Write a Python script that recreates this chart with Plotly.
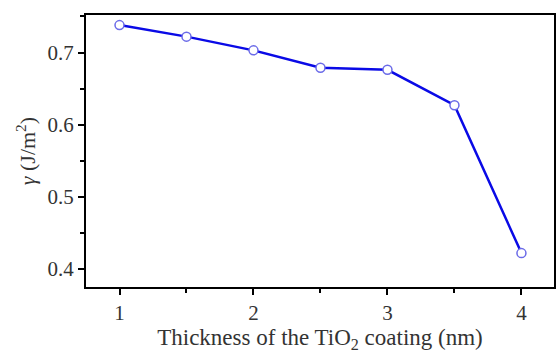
import plotly.graph_objects as go

thickness = [1.0, 1.5, 2.0, 2.5, 3.0, 3.5, 4.0]
gamma = [0.738, 0.722, 0.703, 0.679, 0.676, 0.627, 0.422]

x_ticks = [1, 2, 3, 4]
y_ticks = [0.4, 0.5, 0.6, 0.7]

font_family = "Liberation Serif"

fig = go.Figure()
fig.add_trace(go.Scatter(
    x=thickness, y=gamma, mode="lines+markers",
    line=dict(color="#0a0ae6", width=2.5),
    marker=dict(symbol="circle", size=9, color="white",
                line=dict(color="#6b6be8", width=1.5)),
    showlegend=False,
))

axis_common = dict(
    showline=True, linecolor="black", linewidth=2, mirror=True,
    ticks="outside", ticklen=6, tickwidth=2, tickcolor="black",
    showgrid=False, zeroline=False,
    tickfont=dict(family=font_family, size=21, color="#333333"),
)

fig.update_xaxes(
    range=[0.75, 4.243], tickvals=x_ticks, ticktext=[str(v) for v in x_ticks],
    minor=dict(dtick=0.5, ticks="outside", ticklen=4, tickwidth=2, tickcolor="black"),
    title=dict(text="Thickness of the TiO<sub>2</sub> coating (nm)",
               font=dict(family=font_family, size=23, color="#333333"), standoff=5),
    **axis_common,
)
fig.update_yaxes(
    range=[0.375, 0.752], tickvals=y_ticks, ticktext=[f"{v:.1f}" for v in y_ticks],
    minor=dict(dtick=0.05, ticks="outside", ticklen=4, tickwidth=2, tickcolor="black"),
    title=dict(text="<i>γ</i> (J/m<sup>2</sup>)",
               font=dict(family=font_family, size=22, color="#333333"), standoff=6),
    **axis_common,
)

fig.update_layout(
    width=558, height=353,
    margin=dict(l=86, r=2, t=15, b=66),
    paper_bgcolor="white", plot_bgcolor="white",
)

fig.write_html("out.html")
